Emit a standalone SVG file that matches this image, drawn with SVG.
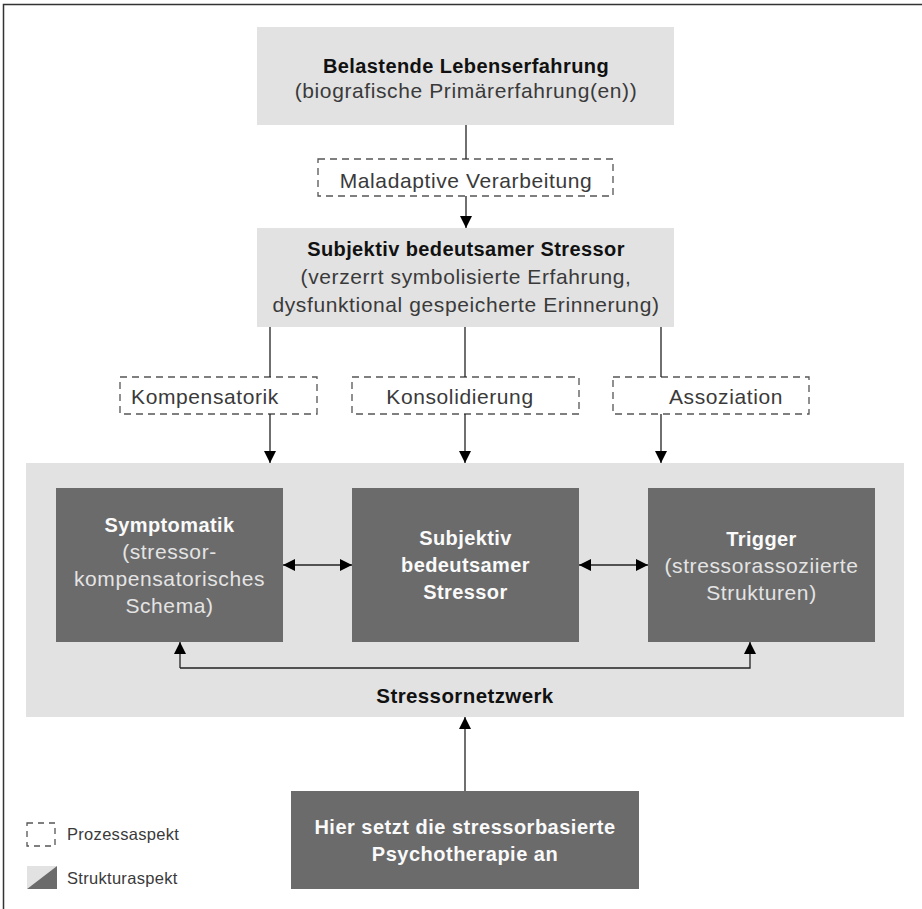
<svg xmlns="http://www.w3.org/2000/svg" width="922" height="909" viewBox="0 0 922 909">
<defs>
<marker id="ah" markerUnits="userSpaceOnUse" markerWidth="12" markerHeight="16" viewBox="0 0 12 16" refX="12" refY="6" orient="auto">
<path d="M0,0 L12,6 L0,12 Z" fill="#000"/>
</marker>
<marker id="ahs" markerUnits="userSpaceOnUse" markerWidth="12" markerHeight="16" viewBox="0 0 12 16" refX="0" refY="6" orient="auto">
<path d="M12,0 L0,6 L12,12 Z" fill="#000"/>
</marker>
<style>
.t{font-family:"Liberation Sans",Arial,sans-serif;text-anchor:middle}
.b{font-weight:bold;fill:#111;font-size:20px;letter-spacing:0.4px}
.r{fill:#3a3a3a;font-size:21px;letter-spacing:0.6px}
.wb{font-weight:bold;fill:#fafafa;font-size:20px;letter-spacing:0.4px}
.wr{fill:#e4e4e4;font-size:21px;letter-spacing:0.6px}
.light{fill:#e2e2e2}
.dark{fill:#6b6b6b}
.dash{fill:none;stroke:#555;stroke-width:1.3;stroke-dasharray:7 5}
.ln{stroke:#222;stroke-width:1.3;fill:none}
.lg{font-family:"Liberation Sans",Arial,sans-serif;font-size:16.5px;letter-spacing:0.3px;fill:#3a3a3a}
</style>
</defs>
<rect width="922" height="909" fill="#fff"/>
<path d="M3.5,909 V4.5 H922" fill="none" stroke="#333" stroke-width="1.5"/>

<g id="n-lebenserfahrung">
<rect class="light" x="257" y="27" width="417" height="98"/>
<text class="t b" x="466" y="73">Belastende Lebenserfahrung</text>
<text class="t r" x="466" y="98">(biografische Primärerfahrung(en))</text>
</g>

<g id="n-maladaptiv">
<rect class="dash" x="318" y="159" width="295" height="37"/>
<text class="t r" x="466" y="188">Maladaptive Verarbeitung</text>
</g>

<g id="n-stressor">
<rect class="light" x="257" y="228" width="417" height="99"/>
<text class="t b" x="466" y="256">Subjektiv bedeutsamer Stressor</text>
<text class="t r" x="466" y="284">(verzerrt symbolisierte Erfahrung,</text>
<text class="t r" x="466" y="312">dysfunktional gespeicherte Erinnerung)</text>
</g>

<g id="n-kompensatorik">
<rect class="dash" x="120" y="377" width="197" height="37"/>
<text class="t r" x="205" y="404">Kompensatorik</text>
</g>
<g id="n-konsolidierung">
<rect class="dash" x="352" y="377" width="227" height="37"/>
<text class="t r" x="460" y="404">Konsolidierung</text>
</g>
<g id="n-assoziation">
<rect class="dash" x="613" y="377" width="196" height="37"/>
<text class="t r" x="726" y="404">Assoziation</text>
</g>

<g id="n-netzwerk">
<rect class="light" x="26" y="463" width="878" height="254"/>
<text class="t b" x="465" y="703" style="font-size:20.5px">Stressornetzwerk</text>
</g>

<g id="n-symptomatik">
<rect class="dark" x="56" y="488" width="227" height="154"/>
<text class="t wb" x="169.5" y="532">Symptomatik</text>
<text class="t wr" x="169.5" y="559">(stressor-</text>
<text class="t wr" x="169.5" y="586">kompensatorisches</text>
<text class="t wr" x="169.5" y="613">Schema)</text>
</g>
<g id="n-stressor2">
<rect class="dark" x="352" y="488" width="227" height="154"/>
<text class="t wb" x="465.5" y="545">Subjektiv</text>
<text class="t wb" x="465.5" y="572">bedeutsamer</text>
<text class="t wb" x="465.5" y="599">Stressor</text>
</g>
<g id="n-trigger">
<rect class="dark" x="648" y="488" width="227" height="154"/>
<text class="t wb" x="761.5" y="546">Trigger</text>
<text class="t wr" x="761.5" y="573">(stressorassoziierte</text>
<text class="t wr" x="761.5" y="600">Strukturen)</text>
</g>

<g id="n-psychotherapie">
<rect class="dark" x="291" y="791" width="348" height="98"/>
<text class="t wb" x="465" y="834" style="letter-spacing:0.5px">Hier setzt die stressorbasierte</text>
<text class="t wb" x="465" y="861" style="letter-spacing:0.5px">Psychotherapie an</text>
</g>

<g id="legend">
<rect class="dash" x="27" y="823" width="28" height="23" style="stroke-dasharray:6 5"/>
<text class="lg" x="67" y="840">Prozessaspekt</text>
<path d="M27,866 H57 L27,889 Z" fill="#e2e2e2"/>
<path d="M57,866 V889 H27 Z" fill="#6b6b6b"/>
<text class="lg" x="67" y="884">Strukturaspekt</text>
</g>

<g id="connectors" class="ln">
<line x1="466" y1="125" x2="466" y2="159"/>
<line x1="466" y1="196" x2="466" y2="228" marker-end="url(#ah)"/>
<line x1="270" y1="327" x2="270" y2="377"/>
<line x1="465" y1="327" x2="465" y2="377"/>
<line x1="661" y1="327" x2="661" y2="377"/>
<line x1="270" y1="414" x2="270" y2="463" marker-end="url(#ah)"/>
<line x1="465" y1="414" x2="465" y2="463" marker-end="url(#ah)"/>
<line x1="661" y1="414" x2="661" y2="463" marker-end="url(#ah)"/>
<line x1="283" y1="565" x2="352" y2="565" marker-start="url(#ahs)" marker-end="url(#ah)"/>
<line x1="579" y1="565" x2="648" y2="565" marker-start="url(#ahs)" marker-end="url(#ah)"/>
<path d="M180,668 H750 V642" marker-end="url(#ah)"/>
<line x1="180" y1="668" x2="180" y2="642" marker-end="url(#ah)"/>
<line x1="465" y1="791" x2="465" y2="717" marker-end="url(#ah)"/>
</g>
</svg>
